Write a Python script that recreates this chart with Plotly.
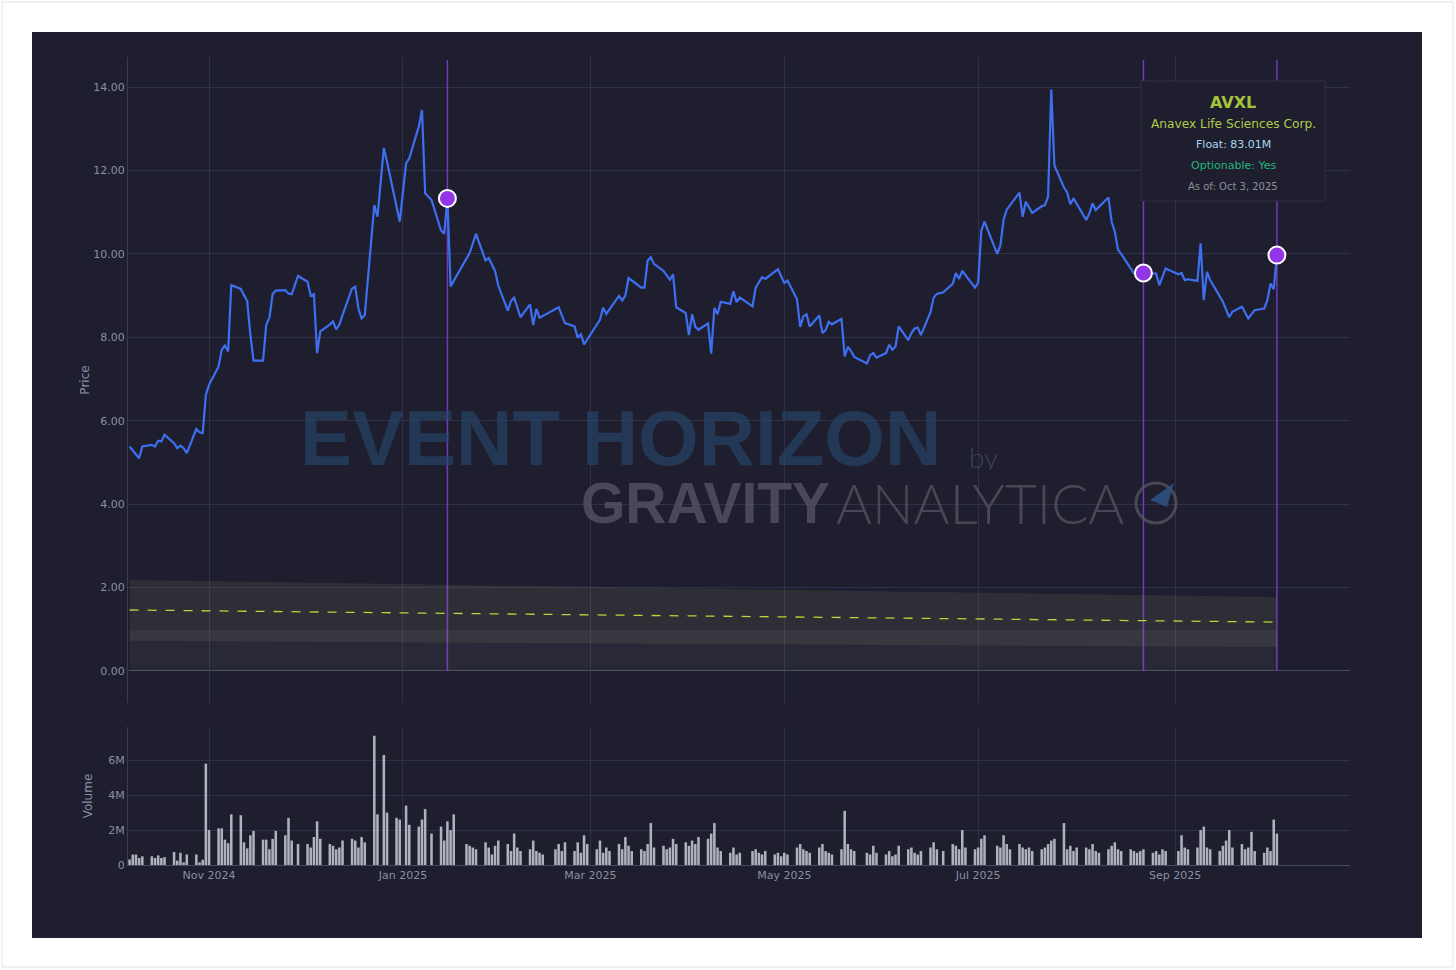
import pandas as pd
import plotly.graph_objects as go
from plotly.subplots import make_subplots

# ---------------- data ----------------
price_dates = [
    "2024-10-07", "2024-10-09", "2024-10-10", "2024-10-11", "2024-10-14", "2024-10-15", "2024-10-16",
    "2024-10-17", "2024-10-18", "2024-10-21", "2024-10-22", "2024-10-23", "2024-10-24", "2024-10-25",
    "2024-10-28", "2024-10-29", "2024-10-30", "2024-10-31", "2024-11-01", "2024-11-04", "2024-11-05",
    "2024-11-06", "2024-11-07", "2024-11-08", "2024-11-11", "2024-11-12", "2024-11-13", "2024-11-14",
    "2024-11-15", "2024-11-18", "2024-11-19", "2024-11-20", "2024-11-21", "2024-11-22", "2024-11-25",
    "2024-11-26", "2024-11-27", "2024-11-29", "2024-12-02", "2024-12-03", "2024-12-04", "2024-12-05",
    "2024-12-06", "2024-12-09", "2024-12-10", "2024-12-11", "2024-12-12", "2024-12-13", "2024-12-16",
    "2024-12-17", "2024-12-18", "2024-12-19", "2024-12-20", "2024-12-23", "2024-12-24", "2024-12-26",
    "2024-12-27", "2024-12-31", "2025-01-02", "2025-01-03", "2025-01-06", "2025-01-07", "2025-01-08",
    "2025-01-10", "2025-01-13", "2025-01-14", "2025-01-15", "2025-01-16", "2025-01-22", "2025-01-24",
    "2025-01-27", "2025-01-28", "2025-01-30", "2025-01-31", "2025-02-03", "2025-02-04", "2025-02-05",
    "2025-02-07", "2025-02-10", "2025-02-11", "2025-02-12", "2025-02-13", "2025-02-19", "2025-02-21",
    "2025-02-24", "2025-02-25", "2025-02-26", "2025-02-27", "2025-03-04", "2025-03-05", "2025-03-06",
    "2025-03-10", "2025-03-11", "2025-03-12", "2025-03-13", "2025-03-17", "2025-03-18", "2025-03-19",
    "2025-03-20", "2025-03-21", "2025-03-24", "2025-03-26", "2025-03-27", "2025-03-28", "2025-03-31",
    "2025-04-01", "2025-04-02", "2025-04-03", "2025-04-04", "2025-04-07", "2025-04-08", "2025-04-09",
    "2025-04-10", "2025-04-11", "2025-04-14", "2025-04-15", "2025-04-16", "2025-04-17", "2025-04-21",
    "2025-04-22", "2025-04-24", "2025-04-25", "2025-04-29", "2025-05-01", "2025-05-02", "2025-05-05",
    "2025-05-06", "2025-05-07", "2025-05-08", "2025-05-09", "2025-05-12", "2025-05-13", "2025-05-14",
    "2025-05-15", "2025-05-16", "2025-05-19", "2025-05-20", "2025-05-21", "2025-05-22", "2025-05-23",
    "2025-05-27", "2025-05-28", "2025-05-29", "2025-05-30", "2025-06-02", "2025-06-03", "2025-06-04",
    "2025-06-05", "2025-06-06", "2025-06-09", "2025-06-10", "2025-06-11", "2025-06-12", "2025-06-13",
    "2025-06-16", "2025-06-17", "2025-06-18", "2025-06-20", "2025-06-23", "2025-06-24", "2025-06-25",
    "2025-06-26", "2025-06-30", "2025-07-01", "2025-07-02", "2025-07-03", "2025-07-07", "2025-07-08",
    "2025-07-09", "2025-07-10", "2025-07-14", "2025-07-15", "2025-07-16", "2025-07-18", "2025-07-21",
    "2025-07-22", "2025-07-23", "2025-07-24", "2025-07-25", "2025-07-28", "2025-07-29", "2025-07-30",
    "2025-07-31", "2025-08-04", "2025-08-05", "2025-08-06", "2025-08-07", "2025-08-11", "2025-08-12",
    "2025-08-13", "2025-08-14", "2025-08-15", "2025-08-19", "2025-08-22", "2025-08-26", "2025-08-27",
    "2025-08-29", "2025-09-02", "2025-09-03", "2025-09-04", "2025-09-05", "2025-09-08", "2025-09-09",
    "2025-09-10", "2025-09-11", "2025-09-12", "2025-09-16", "2025-09-18", "2025-09-19", "2025-09-22",
    "2025-09-24", "2025-09-26", "2025-09-29", "2025-09-30", "2025-10-01", "2025-10-02", "2025-10-03",
]
price_values = [
    5.38, 5.18, 5.10, 5.38, 5.42, 5.38, 5.52,
    5.50, 5.66, 5.46, 5.34, 5.40, 5.34, 5.22,
    5.80, 5.72, 5.70, 6.62, 6.86, 7.30, 7.70,
    7.80, 7.66, 9.25, 9.16, 9.01, 8.87, 8.06,
    7.44, 7.44, 8.30, 8.47, 9.03, 9.12, 9.13,
    9.05, 9.03, 9.47, 9.33, 8.99, 9.03, 7.62,
    8.14, 8.30, 8.38, 8.19, 8.30, 8.53, 9.17,
    9.21, 8.69, 8.45, 8.53, 11.17, 10.89, 12.54,
    12.21, 10.77, 12.17, 12.29, 13.05, 13.45, 11.45,
    11.29, 10.56, 10.48, 11.33, 9.22, 10.02, 10.48,
    9.84, 9.90, 9.59, 9.24, 8.64, 8.87, 8.95,
    8.48, 8.79, 8.29, 8.68, 8.47, 8.72, 8.34,
    8.26, 7.99, 8.07, 7.83, 8.42, 8.71, 8.56,
    8.99, 8.88, 9.00, 9.42, 9.19, 9.19, 9.84,
    9.92, 9.76, 9.59, 9.38, 9.51, 8.72, 8.58,
    8.05, 8.55, 8.25, 8.18, 8.33, 7.61, 8.70,
    8.55, 8.85, 8.80, 9.10, 8.84, 8.95, 8.74,
    9.19, 9.44, 9.40, 9.63, 9.30, 9.36, 8.91,
    8.25, 8.50, 8.55, 8.26, 8.52, 8.10, 8.17,
    8.37, 8.31, 8.44, 7.54, 7.77, 7.67, 7.53,
    7.37, 7.57, 7.62, 7.51, 7.62, 7.82, 7.70,
    7.78, 8.26, 7.93, 8.10, 8.21, 8.23, 8.05,
    8.60, 8.95, 9.04, 9.08, 9.28, 9.54, 9.40,
    9.59, 9.19, 9.31, 10.56, 10.77, 10.00, 10.20,
    10.82, 11.06, 11.47, 10.89, 11.25, 10.98, 11.14,
    11.17, 11.37, 13.94, 12.12, 11.59, 11.48, 11.19,
    11.33, 10.81, 10.97, 11.21, 11.05, 11.35, 10.77,
    10.53, 10.10, 10.00, 9.53, 9.54, 9.53, 9.25,
    9.65, 9.51, 9.54, 9.37, 9.39, 9.35, 10.25,
    8.89, 9.57, 9.37, 8.85, 8.48, 8.61, 8.73,
    8.45, 8.65, 8.69, 8.89, 9.29, 9.15, 9.97,
]

event_dates = ["2025-01-15", "2025-08-22", "2025-10-03"]
event_prices = [11.33, 9.54, 9.97]

band_dates = ["2024-10-07", "2025-10-03"]
band_upper = [2.18, 1.77]
band_center = [1.46, 1.17]
band_lower = [0.72, 0.57]
base_level = [0.98, 0.98]

# trading calendar for the volume bars
volume_start, volume_end = "2024-10-07", "2025-10-03"
market_holidays = ["2024-11-28", "2024-12-25", "2025-01-01", "2025-01-09", "2025-01-20",
                   "2025-02-17", "2025-04-18", "2025-05-26", "2025-06-19", "2025-07-04", "2025-09-01"]

# daily volume (millions), one row per trading week
volume_millions = [
    0.32, 0.60, 0.60, 0.40, 0.50,          # Oct 7-11
    0.50, 0.40, 0.55, 0.40, 0.45,          # Oct 14-18
    0.75, 0.25, 0.70, 0.15, 0.60,          # Oct 21-25
    0.60, 0.15, 0.30, 5.80, 2.00,          # Oct 28-Nov 1
    2.10, 2.10, 1.45, 1.25, 2.90,          # Nov 4-8
    2.85, 1.30, 0.95, 1.70, 1.95,          # Nov 11-15
    1.45, 1.45, 0.90, 1.50, 1.95,          # Nov 18-22
    1.70, 2.70, 1.40, 1.20,                # Nov 25-29
    1.20, 1.00, 1.60, 2.50, 1.50,          # Dec 2-6
    1.20, 1.10, 0.90, 1.00, 1.40,          # Dec 9-13
    1.50, 1.40, 1.00, 1.60, 1.30,          # Dec 16-20
    7.40, 2.90, 6.30, 3.00,                # Dec 23-27
    2.70, 2.60,                            # Dec 30-31
    3.40, 2.30,                            # Jan 2-3
    2.20, 2.60, 3.20, 1.80,                # Jan 6-10
    2.20, 1.40, 2.50, 2.00, 2.90,          # Jan 13-17
    1.20, 1.10, 1.00, 0.90,                # Jan 21-24
    1.30, 1.00, 0.60, 1.10, 1.40,          # Jan 27-31
    1.20, 0.80, 1.80, 1.00, 0.80,          # Feb 3-7
    0.90, 1.40, 0.80, 0.70, 0.60,          # Feb 10-14
    0.90, 1.20, 0.80, 1.30,                # Feb 18-21
    0.80, 1.30, 0.70, 1.70, 1.20,          # Feb 24-28
    0.90, 1.40, 0.70, 1.00, 0.80,          # Mar 3-7
    1.20, 0.90, 1.60, 1.10, 0.80,          # Mar 10-14
    0.90, 0.80, 1.20, 2.40, 1.00,          # Mar 17-21
    1.10, 0.90, 1.00, 1.50, 1.20,          # Mar 24-28
    1.30,                                  # Mar 31
    1.10, 1.40, 1.20, 1.60,                # Apr 1-4
    1.50, 1.80, 2.40, 1.00, 0.80,          # Apr 7-11
    0.70, 1.00, 0.60, 0.70,                # Apr 14-17
    0.80, 0.90, 0.70, 0.60, 0.80,          # Apr 21-25
    0.60, 0.70, 0.50,                      # Apr 28-30
    0.70, 0.60,                            # May 1-2
    1.00, 1.20, 0.90, 0.80, 0.70,          # May 5-9
    1.00, 1.20, 0.80, 0.70, 0.60,          # May 12-16
    0.90, 3.10, 1.20, 0.90, 0.80,          # May 19-23
    0.70, 0.60, 1.10, 0.70,                # May 27-30
    0.60, 0.80, 0.50, 0.60, 1.10,          # Jun 2-6
    0.90, 1.00, 0.70, 0.60, 0.80,          # Jun 9-13
    1.00, 1.30, 0.90, 0.80,                # Jun 16-20
    1.20, 1.10, 0.90, 2.00, 1.00,          # Jun 23-27
    0.90,                                  # Jun 30
    1.00, 1.50, 1.70,                      # Jul 1-3
    1.10, 1.00, 1.70, 1.20, 0.90,          # Jul 7-11
    1.20, 1.00, 0.90, 1.00, 0.80,          # Jul 14-18
    0.90, 1.00, 1.20, 1.40, 1.50,          # Jul 21-25
    2.40, 0.90, 1.10, 0.80, 1.00,          # Jul 28-Aug 1
    1.00, 0.90, 1.20, 0.80, 0.70,          # Aug 4-8
    0.90, 1.10, 1.30, 0.90, 0.80,          # Aug 11-15
    0.90, 0.80, 0.70, 0.80, 0.90,          # Aug 18-22
    0.70, 0.80, 0.60, 0.90, 0.80,          # Aug 25-29
    0.80, 1.70, 1.00, 0.90,                # Sep 2-5
    1.00, 2.00, 2.20, 1.00, 0.90,          # Sep 8-12
    0.80, 1.10, 1.40, 2.00, 1.00,          # Sep 15-19
    1.20, 0.90, 1.00, 1.90, 0.80,          # Sep 22-26
    0.70, 1.00,                            # Sep 29-30
    0.80, 2.60, 1.80,                      # Oct 1-3
]

ticker = "AVXL"
company = "Anavex Life Sciences Corp."
float_text = "Float: 83.01M"
optionable_text = "Optionable: Yes"
asof_text = "As of: Oct 3, 2025"

volume_dates = [d.strftime("%Y-%m-%d") for d in pd.bdate_range(volume_start, volume_end)
                if d.strftime("%Y-%m-%d") not in market_holidays]
n_vol = min(len(volume_dates), len(volume_millions))

# ---------------- style ----------------
BG = "#1e1e2e"
GRID = "#30304a"
TICK = "#8b8fa3"
FONT = "DejaVu Sans"

W, H = 1456, 970
L, R, T, B = 128, 106, 57, 105
PW, PH = W - L - R, H - T - B


def px(xp):
    return (xp - L) / PW


def py(yp):
    return (H - B - yp) / PH


fig = make_subplots(rows=2, cols=1, shared_xaxes=True, vertical_spacing=0.02)

# band
fig.add_trace(go.Scatter(x=band_dates, y=base_level, mode="lines", line=dict(width=0),
                         fill="tozeroy", fillcolor="rgba(140,140,155,0.09)", hoverinfo="skip"), row=1, col=1)
fig.add_trace(go.Scatter(x=band_dates, y=band_lower, mode="lines", line=dict(width=0),
                         hoverinfo="skip"), row=1, col=1)
fig.add_trace(go.Scatter(x=band_dates, y=band_upper, mode="lines", line=dict(width=0),
                         fill="tonexty", fillcolor="rgba(150,150,110,0.14)", hoverinfo="skip"), row=1, col=1)
fig.add_trace(go.Scatter(x=band_dates, y=band_center, mode="lines",
                         line=dict(color="#b9d63a", width=1.3, dash="dash")), row=1, col=1)

# price
fig.add_trace(go.Scatter(x=price_dates, y=price_values, mode="lines",
                         line=dict(color="#3e6ff0", width=2.2)), row=1, col=1)
fig.add_trace(go.Scatter(x=event_dates, y=event_prices, mode="markers",
                         marker=dict(size=17, color="#9535e8", line=dict(color="white", width=2))),
              row=1, col=1)

# volume
fig.add_trace(go.Bar(x=volume_dates[:n_vol], y=[v * 1e6 for v in volume_millions[:n_vol]],
                     marker=dict(color="rgba(195,199,208,0.88)", line=dict(width=0))), row=2, col=1)

# vertical event lines
for d in event_dates:
    fig.add_shape(type="line", xref="x", yref="y", x0=d, x1=d, y0=0, y1=14.65,
                  line=dict(color="rgba(125,65,215,0.85)", width=1.5), layer="between")

# backgrounds / frame
fig.add_shape(type="rect", xref="paper", yref="paper", x0=px(2), x1=px(1453), y0=py(967), y1=py(2),
              line=dict(color="#e2e2e6", width=1), fillcolor="white", layer="below")
fig.add_shape(type="rect", xref="paper", yref="paper", x0=px(32), x1=px(1422), y0=py(938), y1=py(32),
              line=dict(width=0), fillcolor=BG, layer="below")

# info box
fig.add_shape(type="rect", xref="paper", yref="paper", x0=px(1141), x1=px(1325), y0=py(201), y1=py(81),
              line=dict(color="#2f2f42", width=1), fillcolor=BG, layer="above")
cx = px(1233)
info = [
    (ticker, 102, 16, "#a6c23c", "bold"),
    (company, 124, 12.2, "#b0cd48", "normal"),
    (float_text, 144, 11, "#a9d9f2", "normal"),
    (optionable_text, 165, 11, "#25b67a", "normal"),
    (asof_text, 186, 10, "#8e8e9c", "normal"),
]
for txt, yy, sz, col, wt in info:
    fig.add_annotation(x=cx, y=py(yy), xref="paper", yref="paper", text=txt, showarrow=False,
                       xanchor="center", yanchor="middle",
                       font=dict(family=FONT, size=sz, color=col, weight=wt))

# watermark
fig.add_annotation(x=px(298), y=py(438), xref="paper", yref="paper", text="EVENT HORIZON",
                   showarrow=False, xanchor="left", yanchor="middle", height=62, valign="middle",
                   font=dict(family="Liberation Sans", size=78, color="rgba(38,72,108,0.62)", weight="bold"))
fig.add_annotation(x=px(983), y=py(457), xref="paper", yref="paper", text="by",
                   showarrow=False, xanchor="center", yanchor="middle", height=26, valign="middle",
                   font=dict(family="Lato", size=28, color="rgba(90,90,110,0.6)", weight=300))
fig.add_annotation(x=px(832), y=py(503), xref="paper", yref="paper", text="GRAVITY",
                   showarrow=False, xanchor="right", yanchor="middle", height=42, valign="middle",
                   font=dict(family="Liberation Sans", size=57, color="rgba(85,85,100,0.78)", weight="bold"))
fig.add_annotation(x=px(834), y=py(503), xref="paper", yref="paper", text="ANALYTICA",
                   showarrow=False, xanchor="left", yanchor="middle", height=42, valign="middle",
                   font=dict(family="Lato", size=55, color="rgba(85,85,100,0.75)", weight=300))
fig.add_shape(type="circle", xref="paper", yref="paper", x0=px(1136), x1=px(1176), y0=py(523), y1=py(483),
              line=dict(color="rgba(85,85,100,0.75)", width=3), layer="above")
fig.add_shape(type="path", xref="paper", yref="paper",
              path=f"M {px(1150)} {py(500)} L {px(1174)} {py(483)} L {px(1167)} {py(507)} Z",
              fillcolor="rgba(45,80,125,0.9)", line=dict(width=0), layer="above")

axis_common = dict(showgrid=True, gridcolor=GRID, gridwidth=1,
                   tickfont=dict(family=FONT, size=11, color=TICK))

fig.update_xaxes(range=["2024-10-06 12:00", "2025-10-26"], dtick="M2", tick0="2024-11-01",
                 tickformat="%b %Y", ticks="", zeroline=False, **axis_common)
fig.update_xaxes(showticklabels=False, row=1, col=1)
fig.update_xaxes(showline=True, linecolor="#4a4a5e", linewidth=1, row=2, col=1)

fig.update_yaxes(domain=[py(703), 1], range=[-0.77, 14.72], dtick=2, tickformat=".2f",
                 showline=True, linecolor="#3c3c50", linewidth=1, zeroline=True,
                 zerolinecolor="#4a4a5e", zerolinewidth=1,
                 title=dict(text="Price", font=dict(family=FONT, size=12, color=TICK), standoff=1),
                 row=1, col=1, **axis_common)
fig.update_yaxes(domain=[0, py(727)], range=[0, 7.9e6], dtick=2e6, tickformat="~s", zeroline=False,
                 showline=True, linecolor="#3c3c50", linewidth=1,
                 title=dict(text="Volume", font=dict(family=FONT, size=12, color=TICK), standoff=13),
                 row=2, col=1, **axis_common)

fig.update_layout(
    width=W, height=H,
    margin=dict(l=L, r=R, t=T, b=B),
    paper_bgcolor="white",
    plot_bgcolor=BG,
    showlegend=False,
    bargap=0.2,
    font=dict(family=FONT, color=TICK, size=11),
)

fig.write_html("out.html", config={"displayModeBar": False},
               post_script="document.body.style.margin='0';document.body.style.overflow='hidden';")
